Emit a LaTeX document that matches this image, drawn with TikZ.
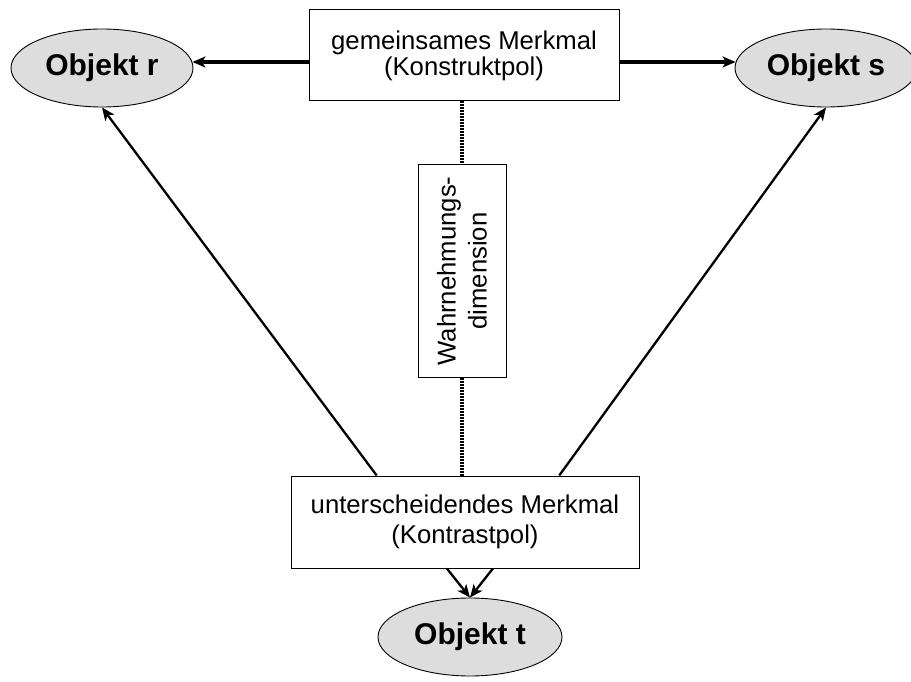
\documentclass[tikz,border=0pt]{standalone}
\usepackage{fontspec}
\setmainfont{Liberation Sans}
\usetikzlibrary{arrows.meta,shapes.geometric,calc}
\definecolor{objfill}{HTML}{DDDDDD}
\begin{document}
\begin{tikzpicture}[x=1pt,y=-1pt,
  box/.style={draw=black, line width=1pt, fill=white, inner sep=0pt, align=center,
              font=\fontsize{25.7}{30}\selectfont},
  objekt/.style={ellipse, draw=black, line width=0.9pt, fill=objfill, inner sep=0pt,
                 minimum width=182pt, minimum height=78pt,
                 font=\fontsize{30}{36}\selectfont\bfseries},
  thickarr/.style={line width=3.2pt, -{Stealth[length=13pt,width=11pt,inset=3.5pt]}},
  arr/.style={line width=2.3pt, -{Stealth[length=13pt,width=11pt,inset=3.5pt]}},
  dotline/.style={line width=3.4pt, dash pattern=on 2pt off 1pt}]
\useasboundingbox (0,0) rectangle (911,682);

% feature boxes
\node[box, minimum width=310pt, minimum height=91pt,
      font=\fontsize{25.7}{26}\selectfont] (top) at (464,55.5)
  {gemeinsames Merkmal\\(Konstruktpol)};
\node[box, minimum width=348pt, minimum height=92pt] (bottom) at (465,522)
  {unterscheidendes Merkmal\\(Kontrastpol)};
\node[box, rotate=90, minimum width=212pt, minimum height=88pt,
      font=\fontsize{25.7}{31}\selectfont] (wahr) at (462,271)
  {Wahrnehmungs-\\dimension};

% objects
\node[objekt] (objr) at (102,68) {Objekt r};
\node[objekt] (objs) at (826,68) {Objekt s};
\node[objekt, minimum width=184pt] (objt) at (470,637) {Objekt t};

% dimension axis
\draw[dotline] (top.south -| wahr.center) -- (wahr.east);
\draw[dotline] (wahr.west) -- (bottom.north -| wahr.center);

% construct pole to the similar objects
\draw[thickarr] ([yshift=-6.5pt]top.west) -- ([yshift=6pt,xshift=-1pt]objr.east);
\draw[thickarr] ([yshift=-6.5pt]top.east) -- ([yshift=6pt,xshift=1pt]objs.west);

% contrast pole links
\draw[arr] ($(bottom.north west)!0.247!(bottom.north east)$) -- (objr.south);
\draw[arr] ($(bottom.north west)!0.77!(bottom.north east)$) -- (objs.south);
\draw[arr] ($(bottom.south west)!0.448!(bottom.south east)$) -- (objt.north);
\draw[arr] ($(bottom.south west)!0.58!(bottom.south east)$) -- (objt.north);
\end{tikzpicture}
\end{document}
